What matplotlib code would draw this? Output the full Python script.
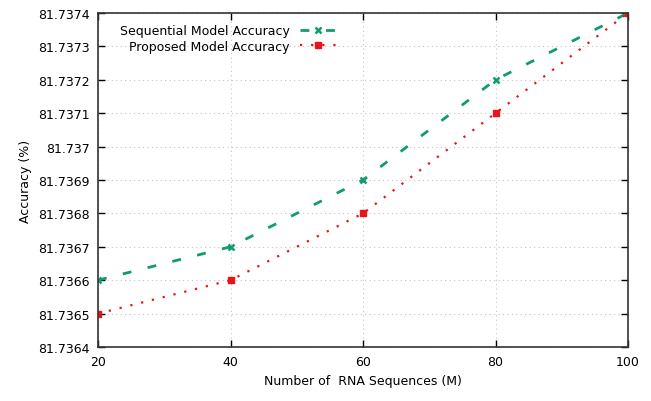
import matplotlib
matplotlib.use("Agg")
import matplotlib.pyplot as plt

# data
sequences = [20, 40, 60, 80, 100]
sequential_acc = [81.7366, 81.7367, 81.7369, 81.7372, 81.7374]
proposed_acc = [81.7365, 81.7366, 81.7368, 81.7371, 81.7374]
y_ticks = [81.7364, 81.7365, 81.7366, 81.7367, 81.7368, 81.7369,
           81.7370, 81.7371, 81.7372, 81.7373, 81.7374]
y_labels = ["81.7364", "81.7365", "81.7366", "81.7367", "81.7368", "81.7369",
            "81.737", "81.7371", "81.7372", "81.7373", "81.7374"]

plt.rcParams['font.family'] = ['DejaVu Sans']
plt.rcParams['font.size'] = 9

fig = plt.figure(figsize=(6.51, 4.02), dpi=100)
ax = fig.add_axes([98 / 651, 1 - 348 / 402, 530 / 651, 334 / 402])

ax.plot(sequences, sequential_acc, color='#119c6f', linestyle=(0, (3.2, 6)), linewidth=2,
        marker='x', markersize=5, markeredgewidth=1.8, label='Sequential Model Accuracy')
ax.plot(sequences, proposed_acc, color='#e8141a', linestyle=(0, (1, 4)), linewidth=1.6,
        marker='s', markersize=5, label='Proposed Model Accuracy')

ax.set_xlim(20, 100)
ax.set_ylim(81.7364, 81.7374)
ax.set_xticks(sequences)
ax.set_yticks(y_ticks)
ax.set_yticklabels(y_labels)
ax.tick_params(direction='in', top=True, right=True, length=5, width=1, pad=6)
ax.grid(True, color='#c4c4c4', linestyle=(0, (1, 3)), linewidth=0.8)
for s in ax.spines.values():
    s.set_linewidth(1.2)
    s.set_color('#333333')

ax.set_xlabel('Number of  RNA Sequences (M)')
ax.set_ylabel('Accuracy (%)')

leg = ax.legend(loc='upper left', bbox_to_anchor=(0.02, 1.0), frameon=False,
                markerfirst=False, handlelength=3, borderpad=0.4, labelspacing=0.2)
for t in leg.get_texts():
    t.set_ha('right')

fig.savefig('out.png', dpi=100)
